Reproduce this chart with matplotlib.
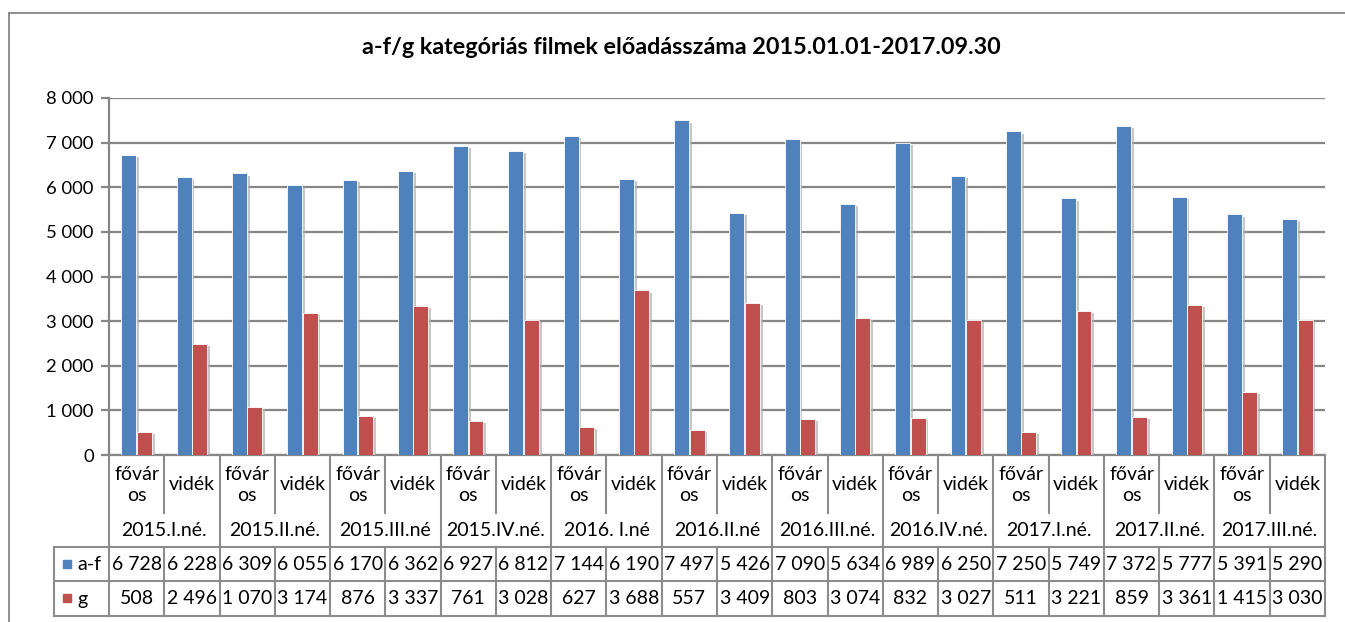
import matplotlib
matplotlib.use('Agg')
import matplotlib.pyplot as plt
import matplotlib.transforms as mtransforms
import matplotlib.patheffects as pe
from matplotlib.lines import Line2D
from matplotlib.patches import Rectangle
import numpy as np

plt.rcParams['font.family'] = ['Lato', 'DejaVu Sans']

title = 'a-f/g kategóriás filmek előadásszáma 2015.01.01-2017.09.30'
groups = ['2015.I.né.', '2015.II.né.', '2015.III.né', '2015.IV.né.', '2016. I.né',
          '2016.II.né', '2016.III.né.', '2016.IV.né.', '2017.I.né.', '2017.II.né.',
          '2017.III.né.']
subcats = ['fővár\nos', 'vidék']
series_names = ['a-f', 'g']
af = [6728, 6228, 6309, 6055, 6170, 6362, 6927, 6812, 7144, 6190, 7497, 5426,
      7090, 5634, 6989, 6250, 7250, 5749, 7372, 5777, 5391, 5290]
g = [508, 2496, 1070, 3174, 876, 3337, 761, 3028, 627, 3688, 557, 3409,
     803, 3074, 832, 3027, 511, 3221, 859, 3361, 1415, 3030]
y_ticks = [0, 1000, 2000, 3000, 4000, 5000, 6000, 7000, 8000]

colors = ['#4F81BD', '#C0504D']
grid_c = '#868686'
line_c = '#8C8C8C'

W, H = 1345, 622
fig = plt.figure(figsize=(W / 100, H / 100), dpi=100)

def fx(px):
    return px / W

def fy(py):
    return 1 - py / H

ax = fig.add_axes([fx(109), fy(455), fx(1325) - fx(109), fy(98) - fy(455)])
n = len(af)
x = np.arange(n)
bw = 0.27
shadow = [pe.SimplePatchShadow(offset=(2, -1.5), shadow_rgbFace='#b0b0b0', alpha=0.7), pe.Normal()]
ax.bar(x - 0.14, af, bw, color=colors[0], edgecolor='white', linewidth=0.6,
       path_effects=shadow, zorder=3)
ax.bar(x + 0.14, g, bw, color=colors[1], edgecolor='white', linewidth=0.6,
       path_effects=shadow, zorder=3)
ax.set_xlim(-0.5, n - 0.5)
ax.set_ylim(0, 8000)
ax.set_yticks(y_ticks)
ax.set_yticklabels([f'{v:,}'.replace(',', ' ') for v in y_ticks])
ax.yaxis.grid(True, color=grid_c, lw=1.6)
ax.set_axisbelow(True)
ax.set_xticks([])
for s in ['top', 'right']:
    ax.spines[s].set_visible(False)
for s in ['left', 'bottom']:
    ax.spines[s].set_color(grid_c)
    ax.spines[s].set_linewidth(1.6)
ax.tick_params(axis='y', length=6, width=1.6, color=grid_c, labelsize=13.3, pad=5)

# Title
fig.text(fx(681), fy(47), title, ha='center', va='center', fontsize=16.8,
         fontweight='bold')

# Chart border
fig.add_artist(Line2D([fx(9), fx(9)], [fy(13), 0], color=grid_c, lw=1.3))
fig.add_artist(Line2D([fx(9), 1], [fy(13), fy(13)], color=grid_c, lw=1.3))

# Data table
tr = mtransforms.blended_transform_factory(ax.transData, fig.transFigure)
left_px = 54
y_top, y_sub, y_r1, y_r2, y_bot = 455, 513, 547, 581, 616
lkw = dict(color=line_c, lw=1.5, clip_on=False)

x_left = -0.5
x_right = n - 0.5
for yy in (y_r1, y_r2, y_bot):
    fig.add_artist(Line2D([x_left, x_right], [fy(yy), fy(yy)], transform=tr, **lkw))
    fig.add_artist(Line2D([fx(left_px), fx(109)], [fy(yy), fy(yy)], **lkw))
fig.add_artist(Line2D([fx(left_px), fx(left_px)], [fy(y_r1), fy(y_bot)], **lkw))
for k in range(n + 1):
    xv = k - 0.5
    if k % 2 == 0:
        fig.add_artist(Line2D([xv, xv], [fy(y_top), fy(y_bot)], transform=tr, **lkw))
    else:
        fig.add_artist(Line2D([xv, xv], [fy(y_top), fy(y_sub)], transform=tr, **lkw))
        fig.add_artist(Line2D([xv, xv], [fy(y_r1), fy(y_bot)], transform=tr, **lkw))

fs = 14
for i in range(n):
    fig.text(i, fy(485), subcats[i % 2], transform=tr, ha='center', va='center',
             fontsize=fs, linespacing=1.35)
    fig.text(i, fy(565), f'{af[i]:,}'.replace(',', ' '), transform=tr,
             ha='center', va='center', fontsize=fs)
    fig.text(i, fy(599), f'{g[i]:,}'.replace(',', ' '), transform=tr,
             ha='center', va='center', fontsize=fs)
for j, grp in enumerate(groups):
    fig.text(2 * j + 0.5, fy(530), grp, transform=tr, ha='center', va='center',
             fontsize=fs)

for r, (name, yc) in enumerate(zip(series_names, (564, 598))):
    fig.add_artist(Rectangle((fx(63), fy(yc + 4)), fx(8), fy(0) - fy(8),
                             transform=fig.transFigure, color=colors[r]))
    fig.text(fx(77), fy(yc + 1), name, ha='left', va='center', fontsize=fs)

fig.savefig('out.png', dpi=100)
